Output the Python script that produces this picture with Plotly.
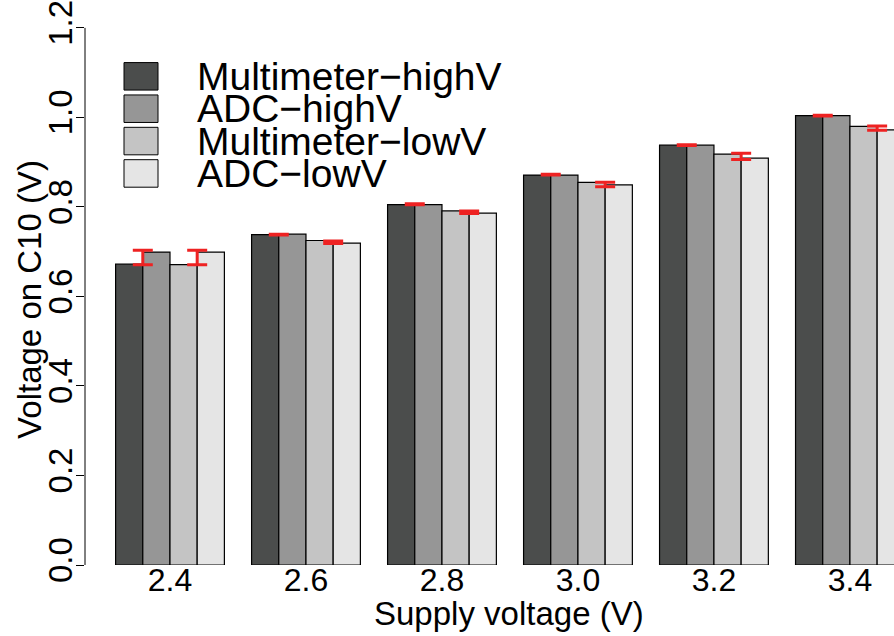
import plotly.graph_objects as go

supply_voltage = ['2.4', '2.6', '2.8', '3.0', '3.2', '3.4']

multimeter_high = [0.672, 0.738, 0.805, 0.871, 0.938, 1.004]
adc_high = [0.699, 0.739, 0.805, 0.871, 0.938, 1.004]
multimeter_low = [0.671, 0.725, 0.791, 0.855, 0.918, 0.980]
adc_low = [0.699, 0.719, 0.786, 0.849, 0.909, 0.972]

# red error bars drawn between the two bars of each pair
high_err_mid = [0.687, 0.738, 0.806, 0.872, 0.938, 1.004]
high_err_half = [0.016, 0.001, 0.001, 0.001, 0.001, 0.001]
low_err_mid = [0.687, 0.721, 0.788, 0.850, 0.913, 0.976]
low_err_half = [0.016, 0.003, 0.003, 0.005, 0.007, 0.005]

series_names = ['Multimeter\u2212highV', 'ADC\u2212highV', 'Multimeter\u2212lowV', 'ADC\u2212lowV']
series_colors = ['#4b4d4c', '#969696', '#c4c4c4', '#e5e5e5']

W, H = 894, 636
ML, MR, MT, MB = 85, 0, 0, 71
FONT = 'Liberation Sans, Arial, sans-serif'

idx = list(range(len(supply_voltage)))

fig = go.Figure()
for name, vals, col in zip(series_names, [multimeter_high, adc_high, multimeter_low, adc_low], series_colors):
    fig.add_trace(go.Bar(x=idx, y=vals, name=name, marker=dict(color=col, line=dict(color='black', width=1.2)),
                         showlegend=False))

for offs, mid, half in [(-0.2, high_err_mid, high_err_half), (0.2, low_err_mid, low_err_half)]:
    fig.add_trace(go.Scatter(x=[i + offs for i in idx], y=mid, mode='markers',
                             marker=dict(size=1, opacity=0),
                             error_y=dict(type='data', array=half, color='#ee2222', thickness=3, width=10),
                             showlegend=False, hoverinfo='skip'))


def px_x(p):
    return (p - ML) / (W - ML - MR)


def px_y(p):
    return (H - MB - p) / (H - MT - MB)


# legend drawn by hand so the rows sit as tight as in the original
shapes = []
annotations = []
for k, (name, col) in enumerate(zip(series_names, series_colors)):
    top = 59 + k * 32.6
    shapes.append(dict(type='rect', xref='paper', yref='paper',
                       x0=px_x(124), x1=px_x(158), y0=px_y(top), y1=px_y(top + 27.7),
                       fillcolor=col, line=dict(color='black', width=1)))
    annotations.append(dict(text=name, xref='paper', yref='paper', x=px_x(195), y=px_y(top + 14),
                            xanchor='left', yanchor='middle', showarrow=False,
                            font=dict(size=39, color='black', family=FONT)))

# y axis line only between 0 and 1.2, like base R
shapes.append(dict(type='line', xref='paper', yref='y', x0=0, x1=0, y0=0, y1=1.2,
                   line=dict(color='black', width=1)))

annotations.append(dict(text='Supply voltage (V)', xref='paper', yref='paper', x=px_x(509), y=px_y(614),
                        xanchor='center', yanchor='middle', showarrow=False,
                        font=dict(size=33, color='black', family=FONT)))
annotations.append(dict(text='Voltage on C10 (V)', xref='paper', yref='paper', x=px_x(30), y=px_y(298),
                        xanchor='center', yanchor='middle', showarrow=False, textangle=-90,
                        font=dict(size=33, color='black', family=FONT)))

fig.update_layout(
    width=W, height=H,
    margin=dict(l=ML, r=MR, t=MT, b=MB),
    barmode='group', bargap=0.2, bargroupgap=0,
    plot_bgcolor='white', paper_bgcolor='white',
    font=dict(family=FONT, color='black', size=32),
    shapes=shapes, annotations=annotations,
)
fig.update_xaxes(range=[-0.625, 5.324], tickvals=idx, ticktext=supply_voltage,
                 showline=False, showgrid=False, zeroline=False, ticks='',
                 tickfont=dict(size=32), ticklabelstandoff=-7)
fig.update_yaxes(range=[0, 1.2533], tickvals=[0, 0.2, 0.4, 0.6, 0.8, 1.0, 1.2], tickformat='.1f',
                 showline=False, showgrid=False, zeroline=False, ticks='outside', ticklen=8,
                 tickcolor='black', tickangle=-90, tickfont=dict(size=33),
                 ticklabelstandoff=-9, ticklabeloverflow='allow')

fig.write_html('out.html', config={'displayModeBar': False},
               post_script="document.body.style.margin='0px';")
